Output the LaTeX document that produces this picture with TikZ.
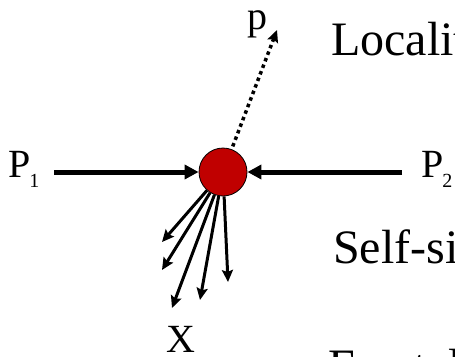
\documentclass[tikz,border=0pt]{standalone}
\usepackage{fontspec}
\setmainfont{Liberation Serif}
\usetikzlibrary{arrows.meta}
\definecolor{cred}{HTML}{C00000}
\newcommand{\labfont}{\fontsize{40}{40}\selectfont}
\newcommand{\subfont}{\fontsize{20}{20}\selectfont}
\newcommand{\bigfont}{\fontsize{48}{52}\selectfont}
\begin{document}
\begin{tikzpicture}[x=1pt,y=-1pt,
  bigarrow/.style={line width=5pt,-{Triangle[length=14pt,width=14pt]}},
  fanarrow/.style={line width=3pt,-{Stealth[length=12pt,width=11pt,inset=2pt]}},
  dotarrow/.style={line width=3.5pt,dash pattern=on 3.5pt off 3.5pt,-{Stealth[length=12pt,width=11pt,inset=2pt]}},
  lab/.style={anchor=base west,inner sep=0pt,font=\labfont},
  bigtext/.style={anchor=base west,inner sep=0pt,font=\bigfont}]
\useasboundingbox (0,0) rectangle (455,356);
\clip (0,0) rectangle (455,356);
\node[circle,draw=black,line width=0.8pt,fill=cred,minimum size=48pt,inner sep=0pt] (c) at (223,172) {};
\coordinate (a1) at (54,172);
\coordinate (a2) at (402,172);
\coordinate (pt) at (277,30);
\coordinate (f1) at (162,242);
\coordinate (f2) at (162,270);
\coordinate (f3) at (172,308);
\coordinate (f4) at (200,300);
\coordinate (f5) at (228,282);
\draw[bigarrow] (a1) -- (c);
\draw[bigarrow] (a2) -- (c);
\draw[dotarrow,shorten <=3pt] (c) -- (pt);
\foreach \f in {f1,f2,f3,f4,f5} \draw[fanarrow] (c) -- (\f);
\node[lab] (P1) at (8,177) {P\kern-1pt\raisebox{-10pt}{\subfont 1}};
\node[lab] (P2) at (421,177) {P\kern-1pt\raisebox{-10pt}{\subfont 2}};
\node[lab] (p) at (247,29) {p};
\node[lab] (X) at (166,352) {X};
\node[bigtext] (t1) at (331,55) {Locality};
\node[bigtext] (t2) at (333,263) {Self-similarity};
\node[bigtext] (t3) at (328,382) {Fractality};
\end{tikzpicture}
\end{document}
